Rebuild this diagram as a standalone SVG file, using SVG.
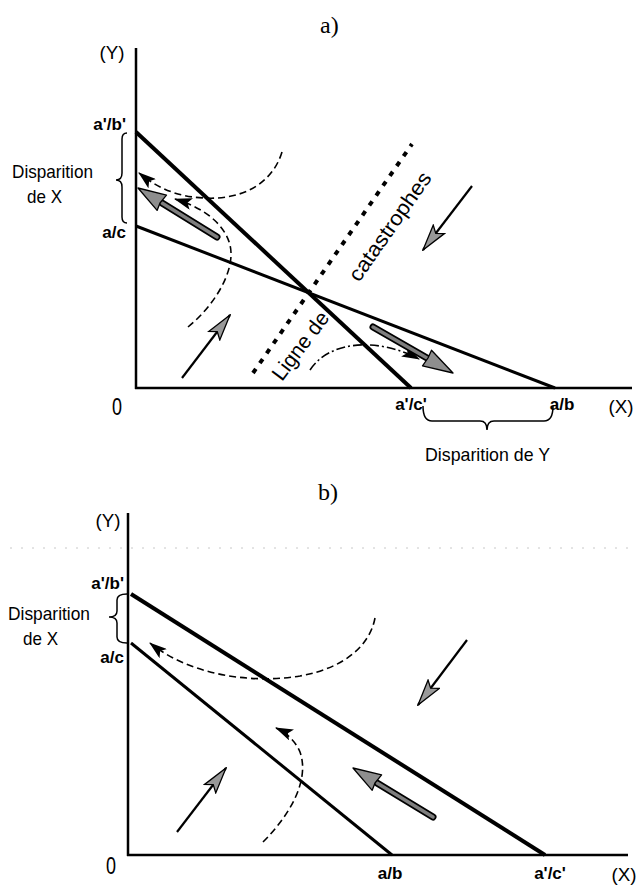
<svg xmlns="http://www.w3.org/2000/svg" width="640" height="889" viewBox="0 0 640 889">
<style>
text{font-family:"Liberation Sans",Arial,sans-serif;fill:#000}
.title{font-family:"Liberation Serif","Times New Roman",serif;font-size:24px}
.lab{font-size:19px}
.zero{font-size:24px}
.bold{font-size:17px;font-weight:bold}
.disp{font-size:19px}
.axis{stroke:#000;stroke-width:2.5;fill:none}
.thick{stroke:#000;stroke-width:4;fill:none}
.thin{stroke:#000;stroke-width:3;fill:none}
.brace{stroke:#000;stroke-width:1.5;fill:none}
.dash{stroke:#000;stroke-width:1.6;fill:none;stroke-dasharray:7 4}
.dashdot{stroke:#000;stroke-width:1.6;fill:none;stroke-dasharray:9 3 2 3}
.solid{stroke:#000;stroke-width:2.2;fill:none}
.shaftO{stroke:#000;stroke-width:7;stroke-linecap:round}
.shaftI{stroke:#7e7e7e;stroke-width:3.5;stroke-linecap:round}
.head{fill:#8e8e8e;stroke:#000;stroke-width:1.3;stroke-linejoin:round}
</style>
<defs>
<marker id="hollow" markerUnits="userSpaceOnUse" viewBox="0 0 28 16" refX="27" refY="8" markerWidth="28" markerHeight="16" orient="auto">
<path d="M1,1 L27,8 L1,15 L6,8 Z" fill="#999" stroke="#000" stroke-width="1.3"/>
</marker>
<marker id="black" markerUnits="userSpaceOnUse" viewBox="0 0 18 12" refX="17" refY="6" markerWidth="18" markerHeight="12" orient="auto">
<path d="M0,0 L18,6 L0,12 L4,6 Z" fill="#000"/>
</marker>
</defs>

<!-- Panel a -->
<g id="panel-a">
<text class="title" x="320" y="33">a)</text>
<g id="a-axes">
<line class="axis" x1="136" y1="48" x2="136" y2="389"/>
<line class="axis" x1="135" y1="388" x2="632" y2="388"/>
<text class="lab" x="112" y="59" text-anchor="middle" textLength="25" lengthAdjust="spacingAndGlyphs">(Y)</text>
<text class="lab" x="621" y="413" text-anchor="middle" textLength="25" lengthAdjust="spacingAndGlyphs">(X)</text>
<text class="zero" x="117" y="415" text-anchor="middle" textLength="10" lengthAdjust="spacingAndGlyphs">0</text>
</g>
<g id="a-line-ab">
<line class="thick" x1="136" y1="132" x2="411" y2="388"/>
<text class="bold" x="126" y="130" text-anchor="end">a'/b'</text>
<text class="bold" x="411" y="410" text-anchor="middle">a'/c'</text>
</g>
<g id="a-line-ac">
<line class="thin" x1="136" y1="226" x2="555" y2="388"/>
<text class="bold" x="126" y="238" text-anchor="end">a/c</text>
<text class="bold" x="562" y="410" text-anchor="middle">a/b</text>
</g>
<g id="a-disp-x">
<path class="brace" d="M127,133 Q122,133 122,139 L122,173 Q122,180 116,180 Q122,180 122,187 L122,217 Q122,223 127,223"/>
<text class="disp" x="12" y="178" textLength="81" lengthAdjust="spacingAndGlyphs">Disparition</text>
<text class="disp" x="27" y="203" textLength="35" lengthAdjust="spacingAndGlyphs">de X</text>
</g>
<g id="a-disp-y">
<path class="brace" d="M423,406 Q423,421 432,421 L480,421 Q487,421 487,430 Q487,421 494,421 L544,421 Q553,421 553,406"/>
<text class="disp" x="425" y="461" textLength="125" lengthAdjust="spacingAndGlyphs">Disparition de Y</text>
</g>
<g id="a-catastrophes">
<line x1="253" y1="373" x2="412" y2="144" stroke="#000" stroke-width="4" stroke-dasharray="5 7"/>
<text font-size="21" transform="translate(282,382) rotate(-53)" textLength="80" lengthAdjust="spacingAndGlyphs">Ligne de</text>
<text font-size="21" transform="translate(359,283) rotate(-55)" textLength="128" lengthAdjust="spacingAndGlyphs">catastrophes</text>
</g>
</g>

<g id="connectors-a">
<path class="dash" d="M282,152 C272,185 240,200 205,198 C180,197 160,190 139,173" marker-end="url(#black)"/>
<path class="dash" d="M188,327 C215,305 236,270 230,245 C225,225 205,208 175,199" marker-end="url(#black)"/>
<path class="dashdot" d="M310,370 C328,342 375,336 419,359" marker-end="url(#black)"/>
<line class="solid" x1="182" y1="378" x2="230" y2="315" marker-end="url(#hollow)"/>
<line class="solid" x1="472" y1="186" x2="423" y2="250" marker-end="url(#hollow)"/>
<g id="a-gray-1">
<line class="shaftO" x1="217" y1="237" x2="162" y2="203"/>
<line class="shaftI" x1="217" y1="237" x2="162" y2="203"/>
<polygon class="head" points="138,188 166.5,195.2 160,203 157.1,210.4"/>
</g>
<g id="a-gray-2">
<line class="shaftO" x1="373" y1="327" x2="427" y2="358"/>
<line class="shaftI" x1="373" y1="327" x2="427" y2="358"/>
<polygon class="head" points="453,373 422.5,365.8 428,358 431.5,350.2"/>
</g>
</g>

<!-- Panel b -->
<g id="panel-b">
<text class="title" x="318" y="500">b)</text>
<line x1="10" y1="548" x2="632" y2="548" stroke="#c8c8c8" stroke-width="1" stroke-dasharray="2 9"/>
<g id="b-axes">
<line class="axis" x1="128" y1="513" x2="128" y2="856"/>
<line class="axis" x1="127" y1="855" x2="628" y2="855"/>
<text class="lab" x="108" y="527" text-anchor="middle" textLength="25" lengthAdjust="spacingAndGlyphs">(Y)</text>
<text class="lab" x="624" y="881" text-anchor="middle" textLength="25" lengthAdjust="spacingAndGlyphs">(X)</text>
<text class="zero" x="111" y="874" text-anchor="middle" textLength="10" lengthAdjust="spacingAndGlyphs">0</text>
</g>
<g id="b-line-ab">
<line class="thick" x1="131" y1="594" x2="545" y2="855" stroke-width="4.5"/>
<text class="bold" x="124" y="589" text-anchor="end">a'/b'</text>
<text class="bold" x="550" y="879" text-anchor="middle">a'/c'</text>
</g>
<g id="b-line-ac">
<line class="thin" x1="131" y1="643" x2="392" y2="855" stroke-width="3.5"/>
<text class="bold" x="124" y="663" text-anchor="end">a/c</text>
<text class="bold" x="390" y="879" text-anchor="middle">a/b</text>
</g>
<g id="b-disp-x">
<path class="brace" d="M127,594 Q117,594 117,600 L117,611 Q117,617 109,617 Q117,617 117,623 L117,637 Q117,643 127,643"/>
<text class="disp" x="8" y="620" textLength="82" lengthAdjust="spacingAndGlyphs">Disparition</text>
<text class="disp" x="23" y="645" textLength="35" lengthAdjust="spacingAndGlyphs">de X</text>
</g>
</g>

<g id="connectors-b">
<path class="dash" d="M375,618 C370,645 345,668 300,676 C250,684 190,675 150,643" marker-end="url(#black)"/>
<path class="dash" d="M263,842 C290,815 310,780 300,752 C295,740 285,732 276,728" marker-end="url(#black)"/>
<line class="solid" x1="177" y1="832" x2="226" y2="768" marker-end="url(#hollow)"/>
<line class="solid" x1="467" y1="640" x2="418" y2="705" marker-end="url(#hollow)"/>
<g id="b-gray">
<line class="shaftO" x1="433" y1="817" x2="377" y2="783"/>
<line class="shaftI" x1="433" y1="817" x2="377" y2="783"/>
<polygon class="head" points="353,768 381.6,774.9 375,783 372.2,790.3"/>
</g>
</g>
</svg>
